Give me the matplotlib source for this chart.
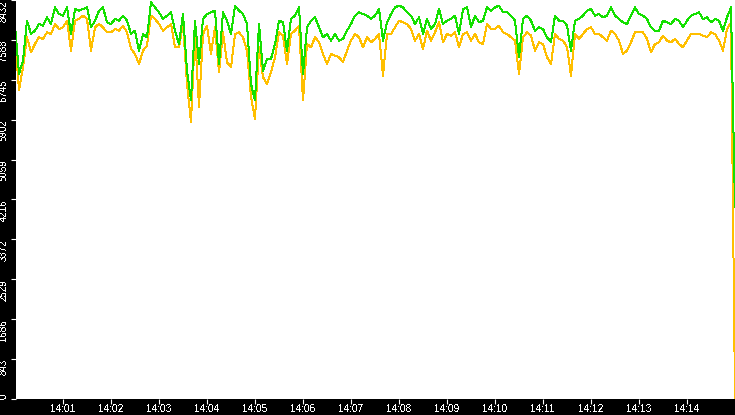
import numpy as np
import matplotlib
matplotlib.use("Agg")
import matplotlib.pyplot as plt

# seconds after 14:00:00, one sample every 5 s
seconds = np.arange(0, 901, 5)

green_values = [
    7890, 6870, 7152, 7995, 7714, 7784, 7925, 7890, 8066, 7925, 8276, 8136, 8101, 8276, 7714, 8241,
    8206, 8241, 8276, 7855, 7995, 8206, 8276, 7960, 7925, 8030, 7995, 8101, 7995, 7714, 7784, 7362,
    7714, 7644, 8382, 8276, 8171, 8030, 8101, 8171, 7784, 7503, 8136, 6941, 6308, 7995, 7081, 8030,
    8136, 8171, 8206, 7081, 8171, 7995, 7714, 8312, 8206, 8136, 7925, 6659, 6308, 7925, 6941,
    7187, 7187, 7503, 7995, 7960, 7362, 8030, 8101, 8276, 6870, 7855, 7995, 8066, 7855, 7644, 7714,
    7573, 7714, 7573, 7609, 7784, 7925, 8101, 8171, 8136, 8101, 8030, 8101, 8241, 7573, 7960,
    8136, 8276, 8312, 8276, 8171, 8101, 7925, 8066, 7714, 8030, 7819, 7925, 8241, 7925, 7995, 8030,
    8101, 7714, 8241, 8276, 7855, 8101, 7960, 7995, 8276, 8206, 8276, 8312, 8171, 8171, 8101,
    7995, 7222, 8030, 8101, 7995, 7784, 7855, 7819, 7644, 7538, 8101, 7995, 7995, 7890, 7362, 7995,
    8030, 8101, 8206, 8241, 8101, 8136, 8066, 8101, 8276, 8101, 8030, 7960, 7925, 8101, 8276,
    8136, 8101, 8030, 7855, 7784, 7784, 7995, 7960, 7925, 8030, 7995, 7855, 7995, 8101, 8136, 8171,
    8030, 8066, 7960, 8030, 7995, 7784, 8066, 8276, 4050,
]

orange_values = [
    7644, 6519, 7011, 7644, 7327, 7503, 7644, 7609, 7749, 7714, 7925, 7819, 7855, 7995, 7362, 7995,
    8030, 8101, 8030, 7362, 7855, 7925, 7855, 7749, 7749, 7819, 7784, 7890, 7749, 7398, 7292, 7081,
    7362, 7468, 8101, 8030, 7925, 7784, 7855, 7925, 7433, 7433, 7925, 6659, 5851, 7749, 6167, 7714,
    7890, 7292, 7855, 6905, 7749, 7116, 7011, 7714, 7749, 7644, 7362, 6378, 5921, 7433, 6800,
    6659, 6905, 7222, 7749, 7679, 7081, 7714, 7784, 7890, 6308, 7503, 7433, 7644, 7538, 7292, 7081,
    7292, 7257, 7222, 7116, 7362, 7573, 7714, 7644, 7433, 7644, 7538, 7609, 7714, 6835, 7714,
    7714, 7855, 7995, 7960, 7925, 7819, 7573, 7714, 7398, 7784, 7573, 7749, 7960, 7538, 7714, 7679,
    7749, 7433, 7714, 7749, 7573, 7714, 7538, 7503, 7925, 7819, 7819, 7890, 7749, 7714, 7644,
    7573, 6870, 7644, 7749, 7679, 7362, 7538, 7503, 7222, 7081, 7714, 7609, 7573, 7433, 6835, 7714,
    7609, 7714, 7819, 7855, 7714, 7714, 7644, 7573, 7784, 7714, 7573, 7292, 7362, 7538, 7749,
    7749, 7749, 7609, 7327, 7503, 7538, 7679, 7573, 7538, 7609, 7503, 7433, 7573, 7714, 7714, 7714,
    7679, 7644, 7749, 7714, 7573, 7362, 7819, 7960, 0,
]

y_ticks = [0, 843, 1686, 2529, 3372, 4216, 5059, 5902, 6745, 7588, 8432]
x_tick_seconds = [60, 120, 180, 240, 300, 360, 420, 480, 540, 600, 660, 720, 780, 840]
x_tick_labels = ["14:01", "14:02", "14:03", "14:04", "14:05", "14:06", "14:07",
                 "14:08", "14:09", "14:10", "14:11", "14:12", "14:13", "14:14"]

plt.rcParams['font.family'] = ['Liberation Sans', 'DejaVu Sans']
plt.rcParams['text.antialiased'] = False

W, H = 735, 415
fig = plt.figure(figsize=(W / 100, H / 100), dpi=100, facecolor="black")
ax = fig.add_axes([16 / W, 16 / H, 1 - 16 / W, 1 - 16 / H])
ax.set_facecolor("white")

ax.plot(seconds, orange_values, color="#FFBF00", lw=0.72, antialiased=False, zorder=2)
ax.plot(seconds, green_values, color="#14E000", lw=0.72, antialiased=False, zorder=3)

ax.set_xlim(1.25, 900)
ax.set_ylim(0, 8432)

for s in ax.spines.values():
    s.set_visible(False)

ax.set_yticks(y_ticks)
ax.set_yticklabels([str(v) for v in y_ticks])
ax.set_xticks(x_tick_seconds)
ax.set_xticklabels(x_tick_labels)

ax.tick_params(axis="y", colors="white", labelcolor="white", length=3.8, width=0.8,
               direction="out", pad=1.5, labelsize=7, labelrotation=90)
ax.tick_params(axis="x", colors="white", labelcolor="white", length=3.6, width=0.8,
               direction="out", pad=0, labelsize=7.2)

for lbl, v in zip(ax.get_yticklabels(), y_ticks):
    lbl.set_va("bottom" if v == 0 else "top")
    lbl.set_ha("right")

fig.savefig("out.png", dpi=100, facecolor="black")
